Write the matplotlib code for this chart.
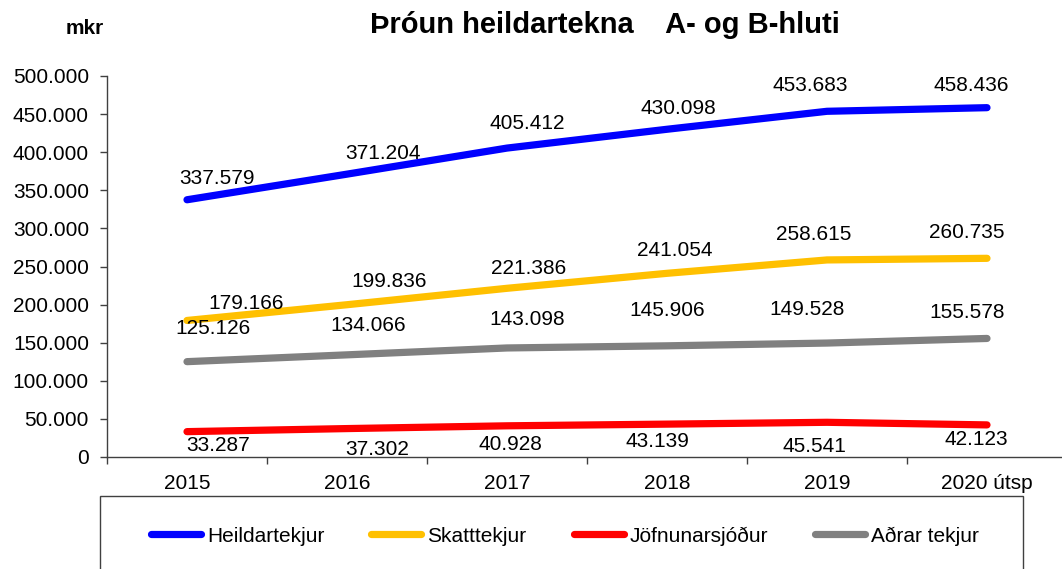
import matplotlib
matplotlib.use("Agg")
import matplotlib.pyplot as plt
from matplotlib.patches import Rectangle
from matplotlib.ticker import FixedLocator, FuncFormatter

plt.rcParams["font.family"] = ["Liberation Sans", "DejaVu Sans"]

years = ["2015", "2016", "2017", "2018", "2019", "2020 útsp"]
heildartekjur = [337579, 371204, 405412, 430098, 453683, 458436]
skatttekjur = [179166, 199836, 221386, 241054, 258615, 260735]
jofnunarsjodur = [33287, 37302, 40928, 43139, 45541, 42123]
adrar_tekjur = [125126, 134066, 143098, 145906, 149528, 155578]

series_names = ["Heildartekjur", "Skatttekjur", "Jöfnunarsjóður", "Aðrar tekjur"]
series_values = [heildartekjur, skatttekjur, jofnunarsjodur, adrar_tekjur]
series_colors = ["#0000FF", "#FFC000", "#FF0000", "#808080"]

# hand-placed data label offsets (pixels, x right / y up), as in the original sheet
label_offsets = [
    [(30, 21), (36, 21), (20, 25), (11, 21), (-17, 26), (-16, 22)],
    [(59, 17), (42, 23), (22, 20), (8, 23), (-13, 25), (-20, 26)],
    [(31, -14), (30, -21), (3, -19), (-10, -17), (-13, -24), (-11, -15)],
    [(26, 33), (21, 29), (20, 28), (0, 35), (-20, 34), (-20, 26)],
]

W, H = 1062, 569
fig = plt.figure(figsize=(W / 100, H / 100), dpi=100)
ax = fig.add_axes([107 / W, 1 - 457 / H, 960 / W, 381 / H])

x = [i + 0.5 for i in range(len(years))]
handles = []
for name, vals, color, offs in zip(series_names, series_values, series_colors, label_offsets):
    (ln,) = ax.plot(x, vals, color=color, lw=5.2, solid_capstyle="round",
                    solid_joinstyle="round", label=name, zorder=3)
    handles.append(ln)
    for xi, v, (dx, dy) in zip(x, vals, offs):
        txt = f"{v:,}".replace(",", ".")
        ax.annotate(txt, (xi, v), xytext=(dx, dy), textcoords="offset pixels",
                    ha="center", va="center", fontsize=15, color="black", zorder=4)

ax.set_xlim(0, len(years))
ax.set_ylim(0, 500000)
ax.yaxis.set_major_locator(FixedLocator(range(0, 500001, 50000)))
ax.yaxis.set_major_formatter(FuncFormatter(lambda v, p: f"{int(v):,}".replace(",", ".")))
ax.xaxis.set_major_locator(FixedLocator(range(len(years) + 1)))
ax.xaxis.set_major_formatter(FuncFormatter(lambda v, p: ""))
ax.xaxis.set_minor_locator(FixedLocator(x))
ax.set_xticklabels(years, minor=True)

for s in ["top", "right"]:
    ax.spines[s].set_visible(False)
for s in ["left", "bottom"]:
    ax.spines[s].set_color("#404040")
    ax.spines[s].set_linewidth(1)
ax.tick_params(axis="y", which="major", length=5, width=1, color="#404040",
               labelsize=15, pad=8)
ax.tick_params(axis="x", which="major", length=5, width=1, color="#404040")
ax.tick_params(axis="x", which="minor", length=0, labelsize=15, pad=12)
ax.patch.set_alpha(0)

fig.text(605 / W, 1 - 25 / H, "Þróun heildartekna    A- og B-hluti",
         ha="center", va="center", fontsize=21, fontweight="bold")
fig.text(85 / W, 1 - 29 / H, "mkr", ha="center", va="center",
         fontsize=15, fontweight="bold")

fig.patches.append(Rectangle((100 / W, 1 - 575 / H), 923 / W, 79 / H,
                             transform=fig.transFigure, fill=False,
                             edgecolor="#404040", lw=1))
fig.legend(handles=handles, loc="center", bbox_to_anchor=(565 / W, 1 - 536 / H),
           ncol=4, frameon=False, fontsize=15, handlelength=2.4,
           handletextpad=0.3, columnspacing=2.25)

fig.savefig("out.png", dpi=100)
